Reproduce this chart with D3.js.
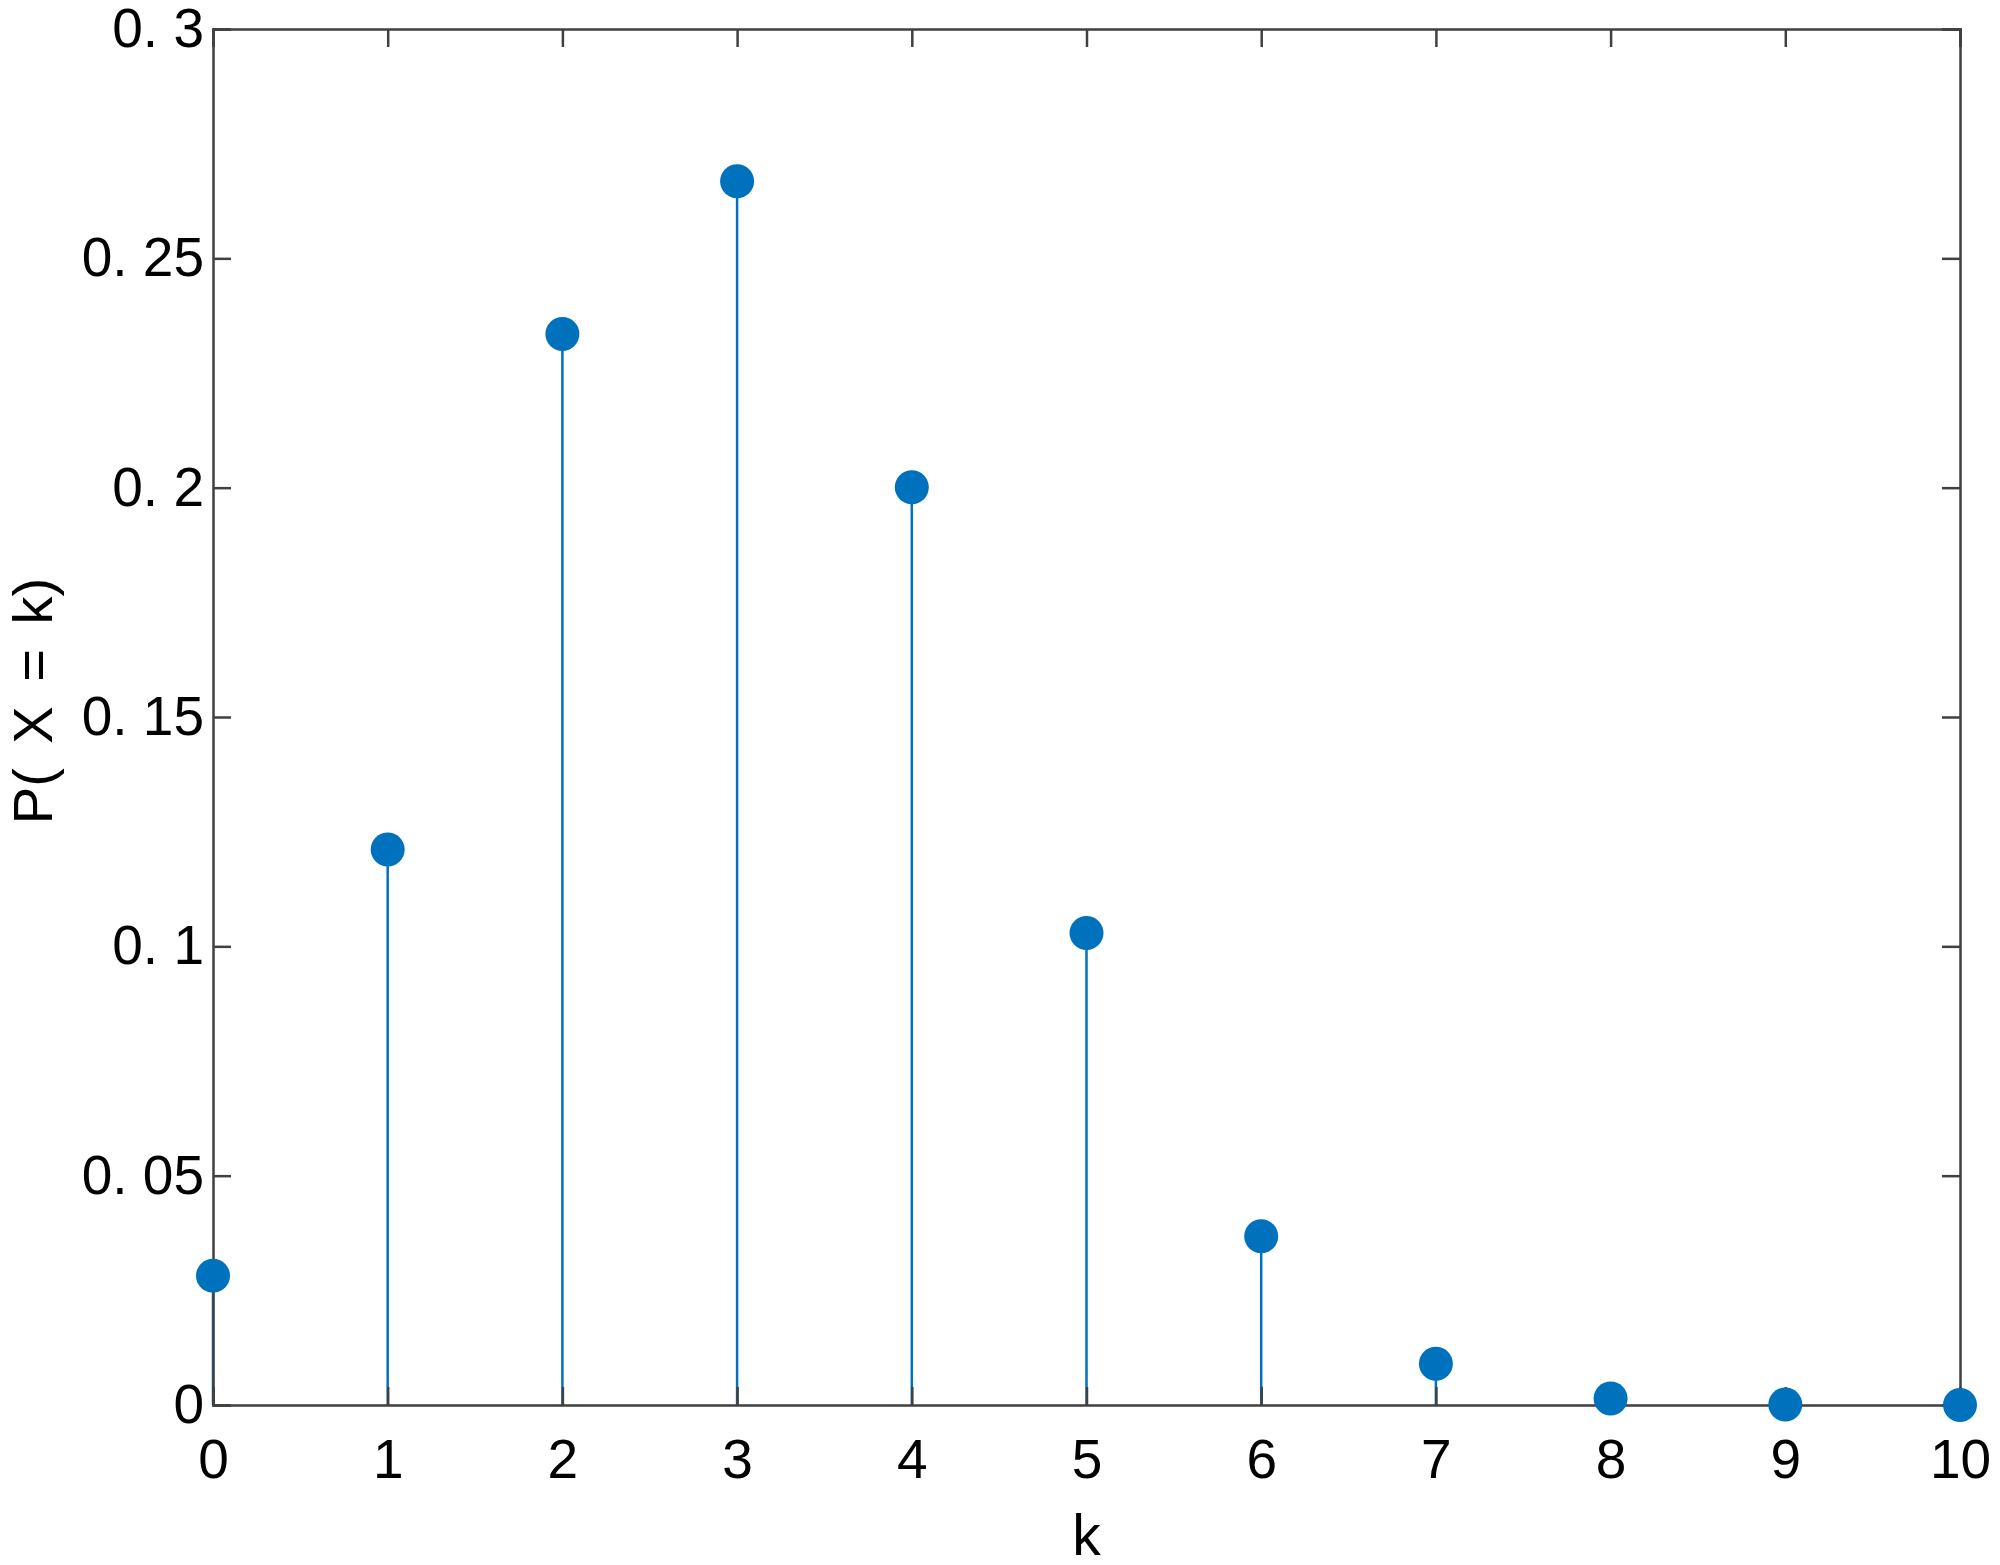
<!DOCTYPE html>
<html>
<head>
<meta charset="utf-8">
<script src="https://cdnjs.cloudflare.com/ajax/libs/d3/7.8.5/d3.min.js"></script>
<style>
    body { margin: 0; background: #fff; }
    text { font-family: "Liberation Sans", Arial, sans-serif; fill: #000; }
</style>
</head>
<body>
<div id="chart"></div>
<script>
// stem plot of P(X = k)

const kValues = [0, 1, 2, 3, 4, 5, 6, 7, 8, 9, 10];
const probValues = [0.0282, 0.1211, 0.2335, 0.2668, 0.2001, 0.1029, 0.0368, 0.0090, 0.0014, 0.0001, 0.0000];
const yTicks = [0, 0.05, 0.1, 0.15, 0.2, 0.25, 0.3];
const yTickLabels = ["0", "0. 05", "0. 1", "0. 15", "0. 2", "0. 25", "0. 3"];

function createVisualization() {
    const svgWidth = 2000;
    const svgHeight = 1565;
    const margin = { top: 29, right: 40, bottom: 160, left: 213 };
    const width = 1960 - margin.left;
    const height = 1405 - margin.top;

    const svg = d3.select("#chart")
        .append("svg")
        .attr("width", svgWidth)
        .attr("height", svgHeight)
        .append("g")
        .attr("transform", `translate(${margin.left},${margin.top})`);

    const xScale = d3.scaleLinear().domain([0, 10]).range([0, width]);
    const yScale = d3.scaleLinear().domain([0, 0.3]).range([height, 0]);

    const data = kValues.map((k, i) => ({ k: k, p: probValues[i] }));

    // stems
    svg.selectAll(".stem")
        .data(data)
        .enter().append("line")
        .attr("class", "stem")
        .attr("x1", d => xScale(d.k))
        .attr("x2", d => xScale(d.k))
        .attr("y1", yScale(0))
        .attr("y2", d => yScale(d.p))
        .attr("stroke", "#0072BD")
        .attr("stroke-width", 2.5);

    const axisColor = "#404040";
    const tickLen = 18;

    // axes with inward ticks
    const xAxis = svg.append("g")
        .attr("transform", `translate(0,${height})`)
        .call(d3.axisBottom(xScale).tickValues(kValues).tickSize(-tickLen).tickPadding(34));
    const xTop = svg.append("g")
        .call(d3.axisTop(xScale).tickValues(kValues).tickSize(-tickLen).tickFormat(""));
    const yAxis = svg.append("g")
        .call(d3.axisLeft(yScale).tickValues(yTicks).tickSize(-tickLen).tickPadding(9)
            .tickFormat((d, i) => yTickLabels[i]));
    const yRight = svg.append("g")
        .attr("transform", `translate(${width},0)`)
        .call(d3.axisRight(yScale).tickValues(yTicks).tickSize(-tickLen).tickFormat(""));

    [xAxis, xTop, yAxis, yRight].forEach(g => {
        g.selectAll(".domain").attr("stroke", axisColor).attr("stroke-width", 2.5);
        g.selectAll(".tick line").attr("stroke", axisColor).attr("stroke-width", 2.5);
        g.selectAll("text").style("font-size", "55px").attr("fill", "#000");
    });

    // markers on top
    svg.selectAll(".dot")
        .data(data)
        .enter().append("circle")
        .attr("class", "dot")
        .attr("cx", d => xScale(d.k))
        .attr("cy", d => yScale(d.p))
        .attr("r", 17)
        .attr("fill", "#0072BD");

    // axis labels
    svg.append("text")
        .attr("x", width / 2)
        .attr("y", 1555 - margin.top)
        .attr("text-anchor", "middle")
        .style("font-size", "57px")
        .text("k");

    svg.append("text")
        .attr("transform", `translate(${52 - margin.left},${701 - margin.top}) rotate(-90)`)
        .attr("text-anchor", "middle")
        .style("font-size", "56px")
        .style("word-spacing", "9px")
        .text("P( X = k)");
}

createVisualization();
</script>
</body>
</html>
